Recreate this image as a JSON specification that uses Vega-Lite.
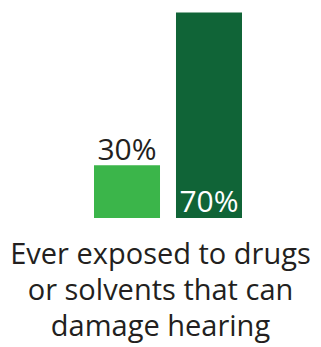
{
  "$schema": "https://vega.github.io/schema/vega-lite/v6.json",
  "width": 321,
  "height": 218,
  "padding": {"left": 0, "top": 0, "right": 0, "bottom": 129},
  "autosize": {"type": "none"},
  "background": "white",
  "config": {"view": {"stroke": null}, "font": "Open Sans"},
  "data": {"values": [
    {"group": "A", "value": 30, "label": "30%", "inside": false},
    {"group": "B", "value": 70, "label": "70%", "inside": true}
  ]},
  "title": {
    "text": ["Ever exposed to drugs", "or solvents that can", "damage hearing"],
    "orient": "bottom",
    "anchor": "middle",
    "font": "Open Sans",
    "fontSize": 29,
    "fontWeight": "normal",
    "color": "#231f20",
    "lineHeight": 36,
    "offset": 23
  },
  "encoding": {
    "x": {"field": "group", "type": "nominal", "axis": null,
          "scale": {"range": [94, 242], "paddingInner": 0.195, "paddingOuter": 0}},
    "y": {"field": "value", "type": "quantitative", "axis": null,
          "scale": {"domain": [16.2, 73.3], "zero": false, "nice": false}}
  },
  "layer": [
    {"mark": {"type": "bar", "clip": true},
     "encoding": {
       "color": {"field": "group", "type": "nominal", "legend": null,
                 "scale": {"domain": ["A", "B"], "range": ["#3bb54a", "#106437"]}}
     }},
    {"transform": [{"filter": "!datum.inside"}],
     "mark": {"type": "text", "baseline": "alphabetic", "dy": -5, "fontSize": 30, "color": "#231f20", "font": "Open Sans"},
     "encoding": {"text": {"field": "label"}}},
    {"transform": [{"filter": "datum.inside"}],
     "mark": {"type": "text", "baseline": "alphabetic", "dy": -6, "fontSize": 30, "color": "white", "font": "Open Sans"},
     "encoding": {"y": {"datum": 16.2}, "text": {"field": "label"}}}
  ]
}
